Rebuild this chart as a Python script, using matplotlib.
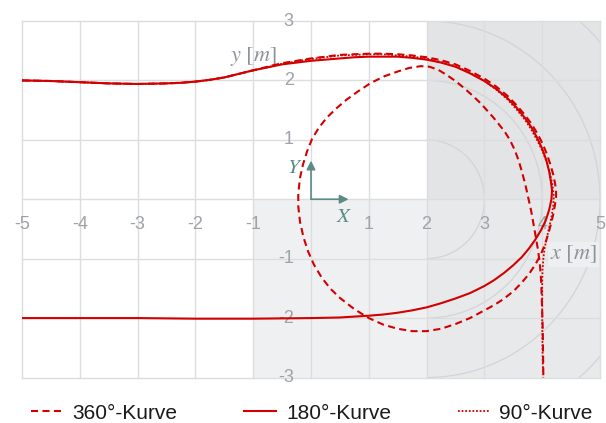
import matplotlib
matplotlib.use("Agg")
import matplotlib.pyplot as plt
from matplotlib.patches import Rectangle, Arc

plt.rcParams['mathtext.fontset'] = 'stix'

# ---- data -------------------------------------------------------------
x_ticks = [-5, -4, -3, -2, -1, 1, 2, 3, 4, 5]
y_ticks = [3, 2, 1, -1, -2, -3]

curve_labels = ["360°-Kurve", "180°-Kurve", "90°-Kurve"]

# approach along y = 2 shared by all manoeuvres
approach_x = [-5.0, -4.5, -4.0, -3.5, -3.0, -2.5, -2.25, -2.0, -1.75, -1.5,
              -1.25, -1.0]
approach_y = [2.00, 1.99, 1.97, 1.95, 1.94, 1.95, 1.96, 1.98, 2.01, 2.05,
              2.11, 2.17]

k360_x = approach_x + [
    -0.75, -0.5, -0.25, 0.0, 0.25, 0.5, 0.75, 1.0, 1.25, 1.5, 1.75, 2.0,
    2.25, 2.5, 2.75, 3.0, 3.2, 3.4, 3.55, 3.7, 3.82, 3.92, 4.01, 4.08, 4.14,
    4.19, 4.22, 4.24, 4.24, 4.22, 4.19, 4.15, 4.10, 4.04, 3.97, 3.88, 3.77,
    3.64, 3.5, 3.33, 3.17, 3.0, 2.75, 2.5, 2.25, 2.0, 1.75, 1.5, 1.25, 1.0,
    0.75, 0.5, 0.33, 0.18, 0.05, -0.05, -0.13, -0.19, -0.22, -0.22, -0.19,
    -0.14, -0.07, 0.02, 0.14, 0.28, 0.44, 0.62, 0.82, 1.04, 1.27, 1.5, 1.7,
    1.9, 2.05, 2.2, 2.35, 2.5, 2.65, 2.8, 2.93, 3.05, 3.16, 3.26, 3.35, 3.44,
    3.52, 3.59, 3.65, 3.71, 3.76, 3.81, 3.85, 3.89, 3.93, 3.96, 3.98, 3.99,
    4.0, 4.01, 4.015, 4.02]
k360_y = approach_y + [
    2.23, 2.29, 2.33, 2.37, 2.40, 2.43, 2.44, 2.45, 2.45, 2.44, 2.42, 2.39,
    2.34, 2.27, 2.16, 2.03, 1.90, 1.74, 1.59, 1.42, 1.26, 1.10, 0.93, 0.76,
    0.59, 0.42, 0.28, 0.15, 0.04, -0.10, -0.26, -0.42, -0.60, -0.78, -0.94,
    -1.10, -1.26, -1.41, -1.55, -1.68, -1.78, -1.87, -2.00, -2.10, -2.18,
    -2.22, -2.22, -2.18, -2.11, -2.00, -1.85, -1.66, -1.50, -1.31, -1.10,
    -0.88, -0.64, -0.38, -0.12, 0.10, 0.36, 0.58, 0.80, 1.02, 1.21, 1.38,
    1.53, 1.68, 1.82, 1.96, 2.07, 2.15, 2.21, 2.24, 2.23, 2.18, 2.09, 1.99,
    1.87, 1.74, 1.62, 1.49, 1.37, 1.25, 1.14, 1.00, 0.84, 0.66, 0.46, 0.24,
    0.02, -0.20, -0.42, -0.64, -0.87, -1.10, -1.35, -1.60, -1.90, -2.20,
    -2.60, -3.00]

k180_x = approach_x + [
    -0.75, -0.5, -0.25, 0.0, 0.25, 0.5, 0.75, 1.0, 1.25, 1.5, 1.75, 2.0,
    2.25, 2.5, 2.75, 3.0, 3.2, 3.4, 3.55, 3.7, 3.82, 3.92, 4.0, 4.07, 4.12,
    4.15, 4.17, 4.16, 4.12, 4.06, 3.98, 3.88, 3.77, 3.65, 3.50, 3.34, 3.17,
    3.0, 2.75, 2.5, 2.25, 2.0, 1.75, 1.5, 1.25, 1.0, 0.5, 0.0, -0.5, -1.0,
    -2.0, -3.0, -4.0, -5.0]
k180_y = approach_y + [
    2.22, 2.27, 2.30, 2.33, 2.35, 2.37, 2.39, 2.40, 2.40, 2.40, 2.38, 2.35,
    2.30, 2.23, 2.12, 1.99, 1.86, 1.70, 1.55, 1.37, 1.20, 1.02, 0.85, 0.66,
    0.47, 0.30, 0.15, 0.00, -0.18, -0.36, -0.52, -0.68, -0.83, -0.97, -1.11,
    -1.24, -1.36, -1.46, -1.58, -1.67, -1.75, -1.82, -1.87, -1.91, -1.94,
    -1.96, -1.99, -2.00, -2.005, -2.01, -2.01, -2.00, -2.00, -2.00]

k90_x = approach_x + [
    -0.75, -0.5, -0.25, 0.0, 0.25, 0.5, 0.75, 1.0, 1.25, 1.5, 1.75, 2.0,
    2.25, 2.5, 2.75, 3.0, 3.2, 3.4, 3.55, 3.7, 3.82, 3.92, 4.01, 4.08, 4.13,
    4.17, 4.19, 4.20, 4.19, 4.16, 4.12, 4.08, 4.04, 4.02, 4.005, 4.0, 4.0,
    4.0, 4.005, 4.01, 4.02]
k90_y = approach_y + [
    2.22, 2.28, 2.32, 2.36, 2.39, 2.42, 2.43, 2.44, 2.44, 2.42, 2.40, 2.37,
    2.31, 2.24, 2.13, 1.99, 1.85, 1.68, 1.52, 1.34, 1.16, 0.98, 0.80, 0.62,
    0.45, 0.28, 0.14, 0.03, -0.12, -0.30, -0.48, -0.65, -0.83, -1.00, -1.20,
    -1.40, -1.70, -2.00, -2.50, -2.75, -3.00]

ring_center = (2, 0)
ring_radii = [1, 2, 3, 4]

# ---- styling ----------------------------------------------------------
RED = '#d20000'
GRID = '#dcdddf'
LABEL = '#9ea3a9'
TEAL = '#5a8b84'
SANS = ['Liberation Sans', 'DejaVu Sans']

fig = plt.figure(figsize=(6.06, 4.23), dpi=100)
ax = fig.add_axes([22 / 606, 45.5 / 423, 578 / 606, 356.5 / 423])
ax.set_xlim(-5, 5)
ax.set_ylim(-3, 3)
for s in ax.spines.values():
    s.set_visible(False)
ax.set_xticks([])
ax.set_yticks([])

# shaded zones
ax.add_patch(Rectangle((2, 0), 3, 3, fc='#e3e4e6', ec='none', zorder=0))
ax.add_patch(Rectangle((-1, -3), 3, 3, fc='#eff0f2', ec='none', zorder=0))
ax.add_patch(Rectangle((2, -3), 3, 3, fc='#e8e9eb', ec='none', zorder=0))

# concentric rings around the turning centre
for r in ring_radii:
    ax.add_patch(Arc(ring_center, 2 * r, 2 * r, theta1=-90, theta2=90,
                     color='#d2d4d7', lw=0.9, zorder=1))

# grid
for v in range(-5, 6):
    ax.axvline(v, color=GRID, lw=1.0, zorder=1, clip_on=False)
for v in range(-3, 4):
    ax.axhline(v, color=GRID, lw=1.0, zorder=1, clip_on=False)

# tick labels on the axes cross
for v in x_ticks:
    ax.text(v, -0.43, str(v), ha='center', va='center', fontsize=13,
            color=LABEL, family=SANS, zorder=2)
for v in y_ticks:
    ax.text(-0.3, v, str(v), ha='right', va='center', fontsize=13,
            color=LABEL, family=SANS, zorder=2)

ax.text(-0.6, 2.4, r'$y\ [m]$', ha='right', va='center', fontsize=16,
        color='#8e9399', zorder=2)
ax.text(4.95, -0.93, r'$x\ [m]$', ha='right', va='center', fontsize=16,
        color='#8e9399', zorder=2,
        bbox=dict(fc='#eeeff1', ec='none', pad=1.5))

# vehicle frame
arrow_len = 0.65
ax.annotate('', xy=(0, arrow_len), xytext=(0, 0),
            arrowprops=dict(arrowstyle='-|>', color=TEAL, lw=1.2,
                            mutation_scale=13, shrinkA=0, shrinkB=0), zorder=2)
ax.annotate('', xy=(arrow_len, 0), xytext=(0, 0),
            arrowprops=dict(arrowstyle='-|>', color=TEAL, lw=1.2,
                            mutation_scale=13, shrinkA=0, shrinkB=0), zorder=2)
ax.text(-0.28, 0.55, r'$Y$', ha='center', va='center', fontsize=15,
        color=TEAL, zorder=2)
ax.text(0.57, -0.28, r'$X$', ha='center', va='center', fontsize=15,
        color=TEAL, zorder=2)

# trajectories
l360, = ax.plot(k360_x, k360_y, color=RED, lw=1.5, dashes=(3.4, 2.1),
                zorder=4, solid_joinstyle='round')
l180, = ax.plot(k180_x, k180_y, color=RED, lw=1.5, zorder=3,
                solid_joinstyle='round')
l90, = ax.plot(k90_x, k90_y, color=RED, lw=1.3, dashes=(1.0, 1.0),
               zorder=4)

fig.legend([l360, l180, l90], curve_labels, loc='center left',
           bbox_to_anchor=(31 / 606, 1 - 413 / 423), ncol=3, frameon=False,
           prop={'family': SANS, 'size': 15}, handlelength=1.5,
           handletextpad=0.5, columnspacing=3.2, borderpad=0,
           borderaxespad=0, labelcolor='#1a1a1a')

fig.savefig('out.png', dpi=100)
